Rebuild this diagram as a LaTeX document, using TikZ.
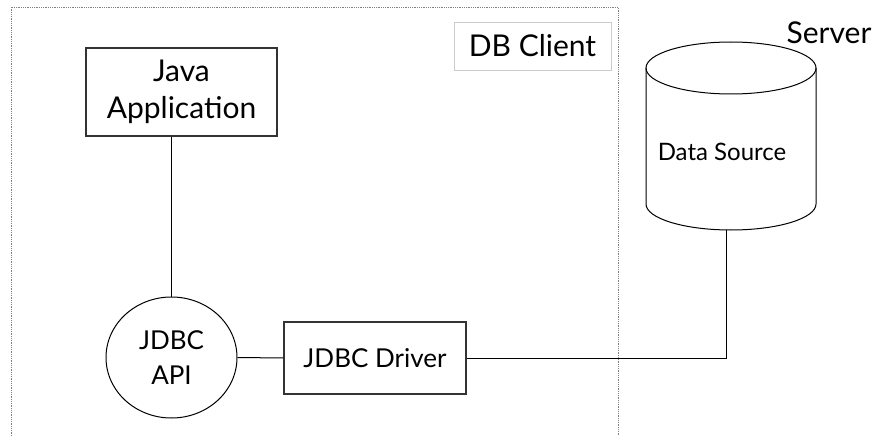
\documentclass[tikz,border=0pt]{standalone}
\usetikzlibrary{shapes.geometric}
\usepackage{fontspec}
\setmainfont{Lato}
\begin{document}
\begin{tikzpicture}[x=1pt,y=-1pt,
  box/.style={draw=black!80, line width=1.3pt, align=center, inner sep=0pt},
  conn/.style={draw=black, line width=1pt},
  big/.style={font=\fontsize{30}{37}\selectfont},
  mid/.style={font=\fontsize{26}{35}\selectfont},
  small/.style={font=\fontsize{24}{28}\selectfont}]
\useasboundingbox (0,0) rectangle (876,436);
% client region (dotted, open at the bottom)
\draw[gray, densely dotted, line width=0.8pt] (11,436) -- (11,7) -- (618,7) -- (618,436);
\node[draw=black!20, line width=0.8pt, minimum width=157pt, minimum height=48pt, inner sep=0pt, big] (dbc) at (532.5,46) {DB Client};
% nodes
\node[box, minimum width=191pt, minimum height=88pt, big] (java) at (181.5,92) {Java\\Application};
\node[draw=black, line width=1pt, ellipse, minimum width=131pt, minimum height=121pt, inner sep=0pt, align=center, mid] (api) at (171.5,357.5) {JDBC\\API};
\node[box, line width=1.1pt, minimum width=182pt, minimum height=72pt, mid] (drv) at (375,358) {JDBC Driver};
% data source cylinder
\draw[line width=1pt] (731,68) ellipse [x radius=85pt, y radius=26pt];
\draw[line width=1pt] (646,68) -- (646,204) arc[start angle=180, end angle=360, x radius=85pt, y radius=26pt] -- (816,68);
\node[small] (dsrc) at (722,152) {Data Source};
\coordinate (ds) at (726,230);
\node[big] (srv) at (829,33) {Server};
% connectors
\draw[conn] (api.north |- java.south) -- (api.north);
\draw[conn] (api.east) -- (drv.west);
\draw[conn] (drv.east) -| (ds);
\end{tikzpicture}
\end{document}
